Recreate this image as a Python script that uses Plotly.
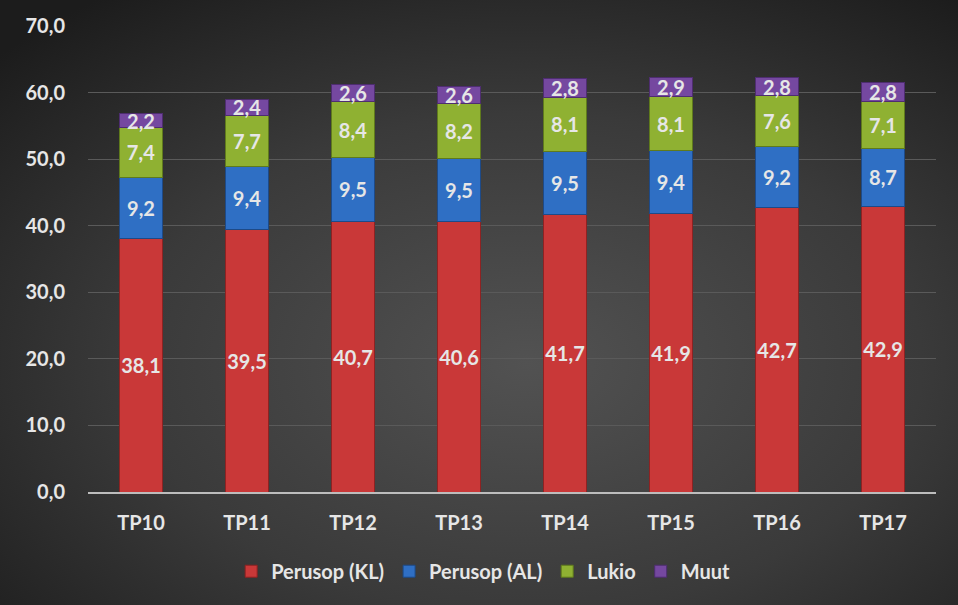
import plotly.graph_objects as go
import base64

categories = ["TP10", "TP11", "TP12", "TP13", "TP14", "TP15", "TP16", "TP17"]
perusop_kl = [38.1, 39.5, 40.7, 40.6, 41.7, 41.9, 42.7, 42.9]
perusop_al = [9.2, 9.4, 9.5, 9.5, 9.5, 9.4, 9.2, 8.7]
lukio = [7.4, 7.7, 8.4, 8.2, 8.1, 8.1, 7.6, 7.1]
muut = [2.2, 2.4, 2.6, 2.6, 2.8, 2.9, 2.8, 2.8]

series = [
    ("Perusop (KL)", perusop_kl, "#c93838", "#8e2222"),
    ("Perusop (AL)", perusop_al, "#2f6fc4", "#1d4a88"),
    ("Lukio", lukio, "#8fb132", "#5f7a1c"),
    ("Muut", muut, "#7548a0", "#4e2d70"),
]

FONT = "Lato"
TXT = "#e6e6e6"

fig = go.Figure()
for name, vals, col, edge in series:
    fig.add_trace(go.Bar(
        name=name, x=categories, y=vals,
        marker=dict(color=col, line=dict(color=edge, width=1)),
        text=[f"{v:.1f}".replace(".", ",") for v in vals],
        textposition="inside", insidetextanchor="middle", textangle=0,
        textfont=dict(family=FONT, size=20, color=TXT, weight="bold"),
        constraintext="none",
        hoverinfo="skip",
    ))

svg = """<svg xmlns='http://www.w3.org/2000/svg' width='958' height='605' viewBox='0 0 958 605' preserveAspectRatio='none'>
<defs><radialGradient id='g' cx='0.55' cy='0.6' r='0.75' gradientUnits='objectBoundingBox'>
<stop offset='0' stop-color='#525252'/><stop offset='0.55' stop-color='#3a3a3a'/><stop offset='1' stop-color='#1c1c1c'/>
</radialGradient></defs><rect width='958' height='605' fill='url(#g)'/></svg>"""
src = "data:image/svg+xml;base64," + base64.b64encode(svg.encode()).decode()

fig.update_layout(
    barmode="stack",
    bargap=0.6,
    width=958, height=605,
    margin=dict(l=88, r=22, t=26, b=113),
    paper_bgcolor="#2a2a2a",
    plot_bgcolor="rgba(0,0,0,0)",
    separators=", ",
    font=dict(family=FONT, size=20, color=TXT, weight="bold"),
    uniformtext=dict(minsize=20, mode="show"),
    showlegend=True,
    legend=dict(orientation="h", x=0.466, xanchor="center", y=-0.17, yanchor="middle",
                traceorder="normal", font=dict(family=FONT, size=20, color=TXT, weight="bold"),
                itemwidth=30, bgcolor="rgba(0,0,0,0)"),
    images=[dict(source=src, xref="paper", yref="paper", x=-88/848, y=1+26/466,
                 sizex=958/848, sizey=605/466, xanchor="left", yanchor="top",
                 sizing="stretch", layer="below")],
    yaxis=dict(range=[0, 70], dtick=10, tickformat=".1f", showgrid=True,
               gridcolor="#5a5a5a", gridwidth=1, zeroline=False, showline=False,
               ticks="", ticklabelstandoff=22,
               tickfont=dict(family=FONT, size=20, color=TXT, weight="bold")),
    xaxis=dict(showline=True, linecolor="#bdbdbd", linewidth=2, ticks="",
               ticklabelstandoff=12, showgrid=False,
               tickfont=dict(family=FONT, size=20, color=TXT, weight="bold")),
)

fig.write_html("out.html", config={"displayModeBar": False},
               post_script="document.body.style.margin='0';document.body.style.background='#2a2a2a';")
